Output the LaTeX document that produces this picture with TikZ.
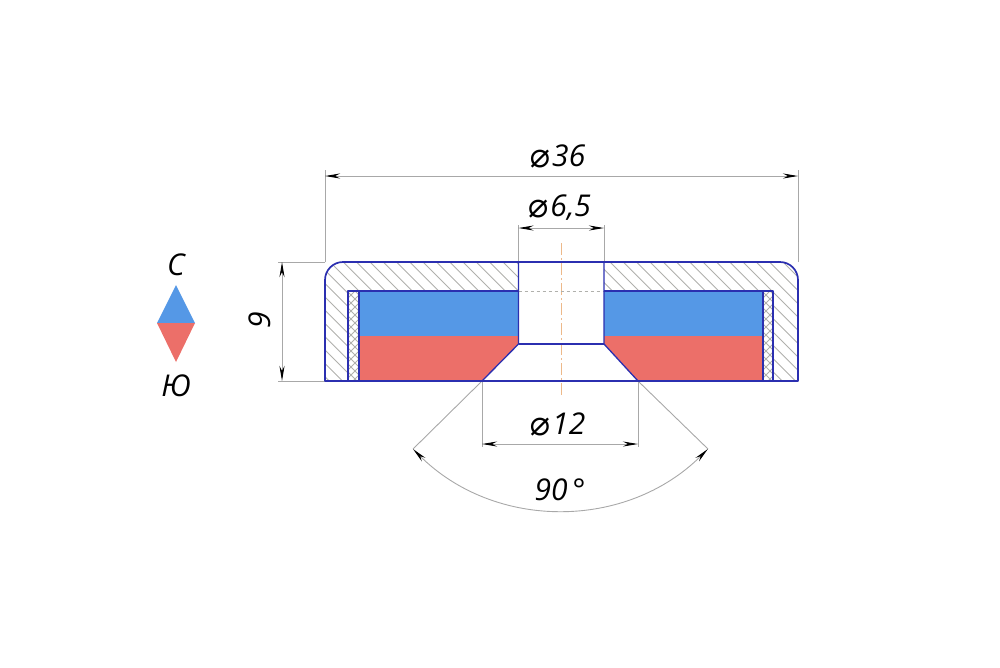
\documentclass[tikz,border=0pt]{standalone}
\usepackage{fontspec}
\setmainfont{Open Sans}
\newfontfamily\symfont{DejaVu Sans}
\usetikzlibrary{arrows.meta}
\definecolor{magblue}{HTML}{5598E6}
\definecolor{magred}{HTML}{EC6F69}
\definecolor{partline}{HTML}{2B2FB0}
\definecolor{dimline}{HTML}{A8A8A8}
\definecolor{hatchline}{HTML}{B0B0AC}
\definecolor{axisline}{HTML}{EDB98A}
\newcommand{\dia}{{\fontsize{34}{36}\selectfont\symfont\itshape\raisebox{-1pt}{⌀}}\hspace{3pt}}

\begin{document}
\begin{tikzpicture}[x=1pt, y=-1pt]
	\tikzstyle{every node}=[inner sep=0pt, font=\fontsize{30}{32}\selectfont\itshape]
	\tikzstyle{partedge}=[draw=partline, line width=1.3pt, line join=round]
	\tikzstyle{extline}=[draw=dimline, line width=0.9pt]
	\tikzstyle{dimarrow}=[draw=dimline, line width=0.9pt, {Stealth[length=15pt, width=5pt, black]}-{Stealth[length=15pt, width=5pt, black]}]
	\tikzstyle{hatch}=[draw=hatchline, line width=0.9pt]

	\useasboundingbox (0, 0) rectangle (1000, 667);

	% legend
	\fill[magblue] (176, 285) -- (195, 323) -- (157, 323) -- cycle;
	\fill[magred] (157, 323) -- (195, 323) -- (176, 362) -- cycle;
	\node (north) at (176, 265) {С};
	\node (south) at (176, 386) {Ю};

	% magnet
	\fill[magblue] (359, 291) rectangle (518.5, 336);
	\fill[magblue] (604, 291) rectangle (763, 336);
	\fill[magred] (359, 336) -- (518.5, 336) -- (518.5, 344) -- (482, 381) -- (359, 381) -- cycle;
	\fill[magred] (604, 336) -- (604, 344) -- (638, 381) -- (763, 381) -- (763, 336) -- cycle;

	% body hatching
	\begin{scope}
		\clip (325, 381) -- (325, 280) arc[start angle=180, end angle=270, radius=18] -- (518.5, 262)
			-- (518.5, 291) -- (348, 291) -- (348, 381) -- cycle;
		\foreach \c in {185, 198.3, ..., 520}
			\draw[hatch] (\c, 250) -- (\c + 145, 395);
	\end{scope}
	\begin{scope}
		\clip (604, 262) -- (780, 262) arc[start angle=270, end angle=360, radius=18] -- (798, 381)
			-- (773, 381) -- (773, 291) -- (604, 291) -- cycle;
		\foreach \c in {465, 478.3, ..., 800}
			\draw[hatch] (\c, 250) -- (\c + 145, 395);
	\end{scope}

	% spacer hatching
	\begin{scope}
		\clip (348, 291) rectangle (359, 381);
		\foreach \c in {200, 208, ..., 370} {
			\draw[hatch] (\c, 280) -- (\c + 110, 390);
			\draw[hatch] (\c + 110, 280) -- (\c, 390);
		}
	\end{scope}
	\begin{scope}
		\clip (763, 291) rectangle (773, 381);
		\foreach \c in {615, 623, ..., 785} {
			\draw[hatch] (\c, 280) -- (\c + 110, 390);
			\draw[hatch] (\c + 110, 280) -- (\c, 390);
		}
	\end{scope}

	% axis and hidden edge
	\draw[axisline, line width=0.9pt, dash pattern=on 12pt off 3pt on 2pt off 3pt] (561, 243) -- (561, 397);
	\draw[hatchline, line width=0.9pt, dashed] (518.5, 291) -- (604, 291);

	% dimension points
	\coordinate (outerL) at (325, 176);
	\coordinate (outerR) at (798, 176);
	\coordinate (holeL) at (518.5, 228);
	\coordinate (holeR) at (604, 228);
	\coordinate (sinkL) at (482, 444);
	\coordinate (sinkR) at (638, 444);
	\coordinate (heightT) at (282, 262);
	\coordinate (heightB) at (282, 381);
	\coordinate (angleL) at (413, 449);
	\coordinate (angleR) at (708, 449);

	% extension lines
	\draw[extline] (325, 262) -- (325, 170);
	\draw[extline] (798, 262) -- (798, 170);
	\draw[extline] (518.5, 262) -- (518.5, 225);
	\draw[extline] (604, 262) -- (604, 225);
	\draw[extline] (482, 381) -- (482, 447);
	\draw[extline] (638, 381) -- (638, 447);
	\draw[extline] (325, 262) -- (278, 262);
	\draw[extline] (325, 381) -- (278, 381);
	\draw[extline] (482, 381) -- (angleL);
	\draw[extline] (638, 381) -- (angleR);

	% outlines
	\draw[partedge, line width=1.7pt] (325, 381) -- (325, 280) arc[start angle=180, end angle=270, radius=18] -- (780, 262)
		arc[start angle=270, end angle=360, radius=18] -- (798, 381) -- cycle;
	\draw[partedge] (348, 381) -- (348, 291) -- (518.5, 291);
	\draw[partedge] (604, 291) -- (773, 291) -- (773, 381);
	\draw[partedge] (359, 291) -- (359, 381);
	\draw[partedge] (763, 291) -- (763, 381);
	\draw[partedge] (518.5, 262) -- (518.5, 344) -- (482, 381);
	\draw[partedge] (604, 262) -- (604, 344) -- (638, 381);
	\draw[partedge] (518.5, 344) -- (604, 344);

	% dimensions
	\draw[dimarrow] (outerL) to (outerR);
	\draw[dimarrow] (holeL) to (holeR);
	\draw[dimarrow] (sinkL) to (sinkR);
	\draw[dimarrow] (heightT) to (heightB);
	\draw[dimarrow] (angleL) arc[start angle=135, end angle=45, radius=208.5];

	\node (dimouter) at (557, 156) {\dia 36};
	\node (dimhole) at (559, 208) {\dia 6,5};
	\node (dimsink) at (557, 424) {\dia 12};
	\node (dimheight) at (260, 320) [rotate=90] {9};
	\node (dimangle) at (560, 490) {90\,°};
\end{tikzpicture}
\end{document}
